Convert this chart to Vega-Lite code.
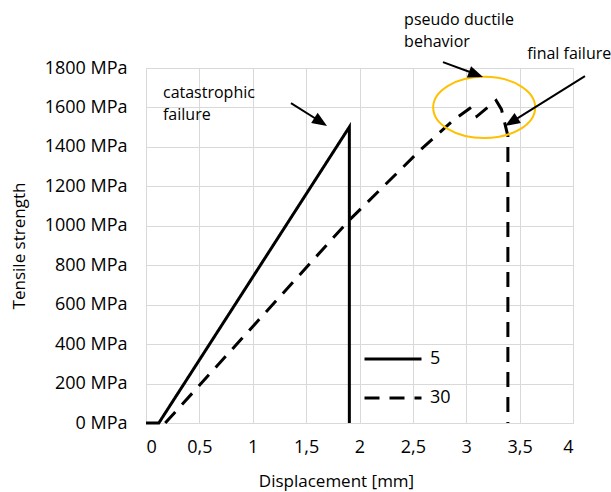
{
  "$schema": "https://vega.github.io/schema/vega-lite/v6.json",
  "width": 427,
  "height": 355,
  "autosize": {"type": "none"},
  "padding": {"left": 146, "top": 68, "right": 38, "bottom": 69},
  "background": "white",
  "config": {
    "font": "Open Sans",
    "view": {"stroke": null},
    "axis": {
      "grid": true,
      "gridColor": "#d9d9d9",
      "gridWidth": 1,
      "domainColor": "#d9d9d9",
      "ticks": false,
      "labelOverlap": false,
      "labelColor": "#000000",
      "titleColor": "#000000",
      "titleFontWeight": "normal",
      "labelFont": "Open Sans",
      "titleFont": "Open Sans",
      "labelFontSize": 18,
      "titleFontSize": 17
    },
    "legend": {
      "orient": "none",
      "legendX": 217,
      "legendY": 261,
      "padding": 0,
      "symbolType": "stroke",
      "symbolSize": 3249,
      "symbolStrokeWidth": 3,
      "symbolStrokeColor": "#000000",
      "labelFontSize": 18,
      "labelColor": "#000000",
      "labelOffset": 7,
      "rowPadding": -17
    }
  },
  "datasets": {
    "curves": [
      {"series": "5", "idx": 1, "x": 0, "y": 0},
      {"series": "5", "idx": 2, "x": 0.12, "y": 0},
      {"series": "5", "idx": 3, "x": 1.905, "y": 1501},
      {"series": "5", "idx": 4, "x": 1.905, "y": 0},
      {"series": "30", "idx": 1, "x": 0.18, "y": 0},
      {"series": "30", "idx": 2, "x": 1.905, "y": 1029},
      {"series": "30", "idx": 3, "x": 2.57, "y": 1384},
      {"series": "30", "idx": 4, "x": 2.88, "y": 1536},
      {"series": "30", "idx": 5, "x": 3.05, "y": 1602},
      {"series": "30", "idx": 6, "x": 3.1, "y": 1555},
      {"series": "30", "idx": 7, "x": 3.2, "y": 1600},
      {"series": "30", "idx": 8, "x": 3.28, "y": 1635},
      {"series": "30", "idx": 9, "x": 3.33, "y": 1590},
      {"series": "30", "idx": 10, "x": 3.39, "y": 1455},
      {"series": "30", "idx": 11, "x": 3.39, "y": 0}
    ],
    "notes": [
      {"x": 0.159, "y": 1673, "label": "catastrophic"},
      {"x": 0.159, "y": 1562, "label": "failure"},
      {"x": 2.418, "y": 2043, "label": "pseudo ductile"},
      {"x": 2.418, "y": 1932, "label": "behavior"},
      {"x": 3.571, "y": 1871, "label": "final failure"}
    ],
    "arrows": [
      {"x": 1.358, "y": 1622, "x2": 1.602, "y2": 1539},
      {"x": 2.782, "y": 1830, "x2": 3.053, "y2": 1776},
      {"x": 4.112, "y": 1759, "x2": 3.46, "y2": 1538}
    ],
    "heads": [
      {"x": 1.696, "y": 1506, "angle": 122.6},
      {"x": 3.157, "y": 1754, "angle": 110.6},
      {"x": 3.363, "y": 1506, "angle": 238}
    ],
    "ellipse": [
      {"x": 3.168, "y": 1600}
    ]
  },
  "encoding": {
    "x": {
      "field": "x", "type": "quantitative",
      "scale": {"domain": [0, 4], "nice": false, "zero": false},
      "axis": {
        "title": "Displacement [mm]",
        "values": [0, 0.5, 1, 1.5, 2, 2.5, 3, 3.5, 4],
        "format": ".1~f",
        "labelExpr": "replace(datum.label, '.', ',')",
        "labelOverlap": false,
        "labelPadding": 15,
        "titlePadding": 17,
        "titleX": 190
      }
    },
    "y": {
      "field": "y", "type": "quantitative",
      "scale": {"domain": [0, 1800], "nice": false},
      "axis": {
        "title": "Tensile strength",
        "values": [0, 200, 400, 600, 800, 1000, 1200, 1400, 1600, 1800],
        "format": "d",
        "labelExpr": "datum.label + ' MPa'",
        "labelOverlap": false,
        "labelPadding": 19,
        "titlePadding": 16
      }
    }
  },
  "layer": [
    {
      "data": {"name": "curves"},
      "mark": {"type": "line", "strokeWidth": 3, "color": "#000000"},
      "encoding": {
        "strokeDash": {
          "field": "series", "type": "nominal",
          "scale": {"domain": ["5", "30"], "range": [[1, 0], [15, 10]]},
          "legend": {"title": null}
        },
        "order": {"field": "idx", "type": "quantitative"}
      }
    },
    {
      "data": {"name": "ellipse"},
      "mark": {
        "type": "point",
        "shape": "M-1,0 A1,0.6 0 1,1 1,0 A1,0.6 0 1,1 -1,0 Z",
        "size": 10404,
        "filled": false,
        "stroke": "#FFC000",
        "strokeWidth": 2,
        "opacity": 1
      }
    },
    {
      "data": {"name": "arrows"},
      "mark": {"type": "rule", "strokeWidth": 2, "color": "#000000"},
      "encoding": {
        "x2": {"field": "x2"},
        "y2": {"field": "y2"}
      }
    },
    {
      "data": {"name": "heads"},
      "mark": {
        "type": "point",
        "shape": "M0,0 L-0.6,1.5 L0.6,1.5 Z",
        "size": 400,
        "filled": true,
        "color": "#000000",
        "opacity": 1
      },
      "encoding": {
        "angle": {"field": "angle", "type": "quantitative", "scale": null}
      }
    },
    {
      "data": {"name": "notes"},
      "mark": {"type": "text", "align": "left", "baseline": "middle", "fontSize": 16, "color": "#000000", "font": "Open Sans"},
      "encoding": {
        "text": {"field": "label"}
      }
    }
  ]
}
